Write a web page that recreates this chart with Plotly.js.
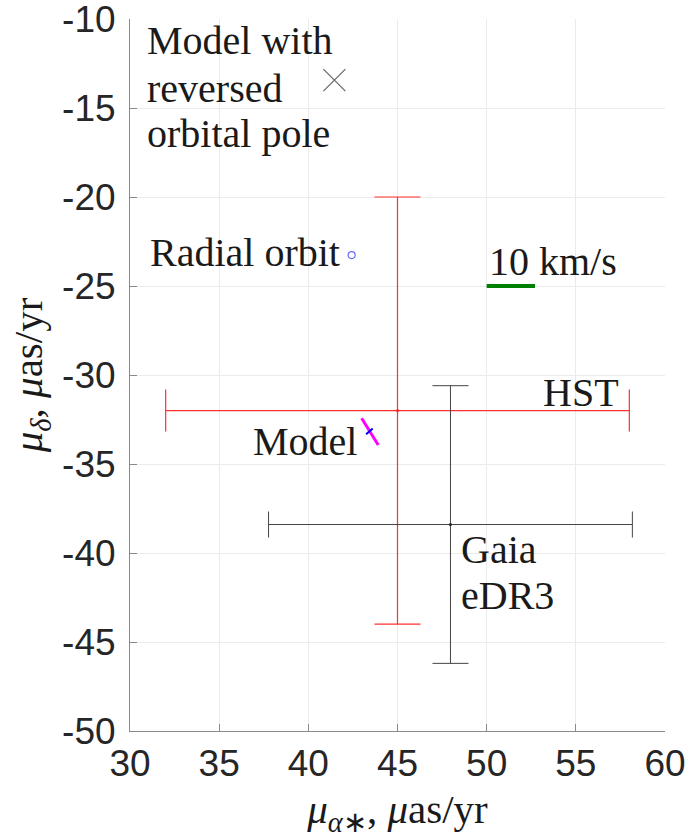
<!DOCTYPE html>
<html>
<head>
<meta charset="utf-8">
<script src="https://cdn.plot.ly/plotly-3.0.1.min.js"></script>
<style>html,body{margin:0;padding:0;background:#fff;}#chart{width:690px;height:838px;}</style>
</head>
<body>
<div id="chart"></div>
<script>
// Measurements (mu_alpha*, mu_delta) with 1-sigma errors
var hstX = [45], hstY = [-32], hstErrX = [13], hstErrY = [12];
var gaiaX = [47.97], gaiaY = [-38.4], gaiaErrX = [10.2], gaiaErrY = [7.8];
// Model track
var modelX = [42.99, 43.92], modelY = [-32.43, -33.93];
var modelTickX = [43.24, 43.61], modelTickY = [-33.33, -33.0];
// Model with reversed orbital pole
var revX = [41.46], revY = [-13.43];
// Radial orbit
var radX = [42.43], radY = [-23.26];
// 10 km/s scale bar
var barX = [50, 52.71], barY = [-25, -25];
// Tick values
var xTicks = [30, 35, 40, 45, 50, 55, 60];
var yTicks = [-50, -45, -40, -35, -30, -25, -20, -15, -10];

var serif = "Liberation Serif, Times New Roman, serif";
var sans = "Liberation Sans, Arial, sans-serif";
var fs = 40;

var traces = [
  {x: hstX, y: hstY, type: 'scatter', mode: 'markers', showlegend: false,
   marker: {color: '#ff2020', size: 3},
   error_x: {type: 'data', array: hstErrX, visible: true, color: '#ff3030', thickness: 1.2, width: 21},
   error_y: {type: 'data', array: hstErrY, visible: true, color: '#ff3030', thickness: 1.2, width: 23}},
  {x: gaiaX, y: gaiaY, type: 'scatter', mode: 'markers', showlegend: false,
   marker: {color: '#222', size: 3},
   error_x: {type: 'data', array: gaiaErrX, visible: true, color: '#444', thickness: 1, width: 13},
   error_y: {type: 'data', array: gaiaErrY, visible: true, color: '#444', thickness: 1, width: 18}},
  {x: modelX, y: modelY, type: 'scatter', mode: 'lines', showlegend: false,
   line: {color: '#ff00ff', width: 3}},
  {x: modelTickX, y: modelTickY, type: 'scatter', mode: 'lines', showlegend: false,
   line: {color: '#0000ff', width: 2}},
  {x: revX, y: revY, type: 'scatter', mode: 'markers', showlegend: false,
   marker: {symbol: 'x-thin-open', size: 22, color: '#666', line: {color: '#666', width: 1.2}}},
  {x: radX, y: radY, type: 'scatter', mode: 'markers', showlegend: false,
   marker: {symbol: 'circle-open', size: 7, color: '#6b6bff', line: {color: '#6b6bff', width: 1.2}}},
  {x: barX, y: barY, type: 'scatter', mode: 'lines', showlegend: false,
   line: {color: '#008000', width: 4}}
];

function ann(text, x, y, xanchor) {
  return {text: text, x: x, y: y, xref: 'x', yref: 'y', xanchor: xanchor, yanchor: 'middle',
          showarrow: false, font: {family: serif, size: fs, color: '#1a1a1a'}};
}

var layout = {
  width: 690, height: 838,
  margin: {l: 130, r: 25, t: 19, b: 107},
  paper_bgcolor: '#fff', plot_bgcolor: '#fff',
  xaxis: {
    range: [30, 60], tickvals: xTicks, ticktext: xTicks.map(String),
    showgrid: true, gridcolor: '#ebebeb', gridwidth: 1, zeroline: false,
    showline: true, linecolor: '#8a8a8a', linewidth: 1, mirror: false,
    ticks: 'inside', ticklen: 7, tickcolor: '#8a8a8a', ticklabeloverflow: 'allow',
    tickfont: {family: sans, size: 37, color: '#262626'},
    title: {text: '<i>μ</i><sub><i>α</i>∗</sub>, <i>μ</i>as/yr', font: {family: serif, size: 41, color: '#1a1a1a'}, standoff: 14}
  },
  yaxis: {
    range: [-50, -10], tickvals: yTicks, ticktext: yTicks.map(String),
    showgrid: true, gridcolor: '#ebebeb', gridwidth: 1, zeroline: false,
    showline: true, linecolor: '#8a8a8a', linewidth: 1, mirror: false,
    ticks: 'inside', ticklen: 7, tickcolor: '#8a8a8a', ticklabelstandoff: 6, ticklabeloverflow: 'allow',
    tickfont: {family: sans, size: 37, color: '#262626'},
    title: {text: '<i>μ</i><sub><i>δ</i></sub>, <i>μ</i>as/yr', font: {family: serif, size: 41, color: '#1a1a1a'}, standoff: 6}
  },
  annotations: [
    ann('Model with', 30.85, -11.18, 'left'),
    ann('reversed', 30.85, -13.88, 'left'),
    ann('orbital pole', 30.85, -16.46, 'left'),
    ann('Radial orbit', 41.89, -23.09, 'right'),
    ann('10 km/s', 50.0, -23.65, 'left'),
    ann('HST', 57.52, -30.96, 'right'),
    ann('Model', 42.84, -33.71, 'right'),
    ann('Gaia', 48.45, -39.78, 'left'),
    ann('eDR3', 48.45, -42.4, 'left')
  ]
};

Plotly.newPlot('chart', traces, layout, {displayModeBar: false, staticPlot: true});
</script>
</body>
</html>
